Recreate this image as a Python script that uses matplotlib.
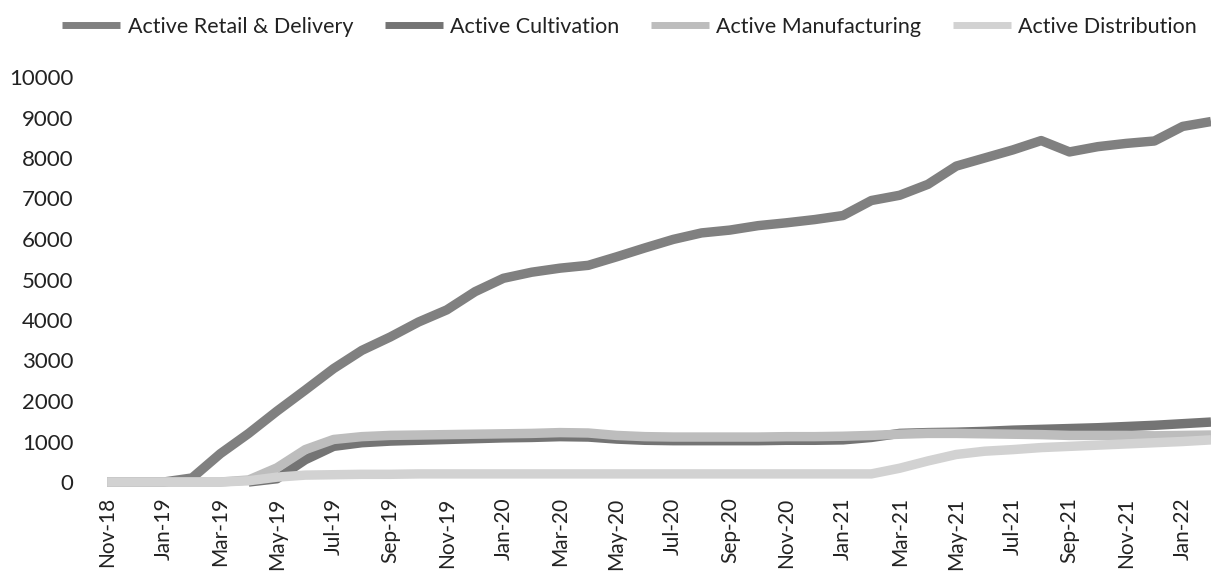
import matplotlib.pyplot as plt
import numpy as np

plt.rcParams['font.family'] = ['Lato', 'DejaVu Sans']

months = ["Nov-18", "Dec-18", "Jan-19", "Feb-19", "Mar-19", "Apr-19", "May-19", "Jun-19",
          "Jul-19", "Aug-19", "Sep-19", "Oct-19", "Nov-19", "Dec-19", "Jan-20", "Feb-20",
          "Mar-20", "Apr-20", "May-20", "Jun-20", "Jul-20", "Aug-20", "Sep-20", "Oct-20",
          "Nov-20", "Dec-20", "Jan-21", "Feb-21", "Mar-21", "Apr-21", "May-21", "Jun-21",
          "Jul-21", "Aug-21", "Sep-21", "Oct-21", "Nov-21", "Dec-21", "Jan-22", "Feb-22"]

retail = [0, 0, 0, 100, 700, 1200, 1750, 2270, 2800, 3250, 3580, 3950, 4250, 4700,
          5030, 5180, 5280, 5350, 5560, 5780, 5990, 6150, 6220, 6330, 6400, 6480,
          6580, 6950, 7080, 7350, 7800, 8000, 8200, 8430, 8150, 8280, 8360, 8420,
          8780, 8900]

cultivation = [np.nan, np.nan, np.nan, np.nan, np.nan, 0, 80, 550, 880, 970, 1010, 1030,
               1050, 1070, 1090, 1100, 1120, 1110, 1060, 1030, 1020, 1020, 1020, 1020,
               1030, 1030, 1040, 1100, 1200, 1220, 1230, 1250, 1280, 1300, 1320, 1340,
               1370, 1400, 1440, 1480]

manufacturing = [0, 0, 0, 0, 0, 50, 350, 800, 1050, 1120, 1150, 1160, 1170, 1180, 1190,
                 1200, 1220, 1210, 1150, 1120, 1110, 1110, 1110, 1110, 1120, 1120, 1130,
                 1150, 1180, 1200, 1200, 1190, 1180, 1170, 1150, 1150, 1150, 1140, 1150,
                 1160]

distribution = [0, 0, 0, 0, 0, 30, 120, 170, 180, 190, 190, 200, 200, 200, 200, 200, 200,
                200, 200, 200, 200, 200, 200, 200, 200, 200, 200, 200, 340, 520, 680, 760,
                800, 850, 880, 910, 940, 970, 1000, 1040]

series = [
    ("Active Retail & Delivery", retail, "#808080"),
    ("Active Cultivation", cultivation, "#747474"),
    ("Active Manufacturing", manufacturing, "#bdbdbd"),
    ("Active Distribution", distribution, "#d2d2d2"),
]

fig = plt.figure(figsize=(12.11, 5.71), dpi=100)
ax = fig.add_axes([93 / 1211, 89 / 571, 1 - 93 / 1211, 405 / 571])

x = np.arange(len(months))
for name, vals, col in series:
    ax.plot(x, vals, color=col, lw=6.8, label=name, clip_on=False, solid_capstyle='butt')

ax.set_xlim(-0.5, len(months) - 1)
ax.set_ylim(0, 10000)
ax.set_yticks(np.arange(0, 10001, 1000))
ax.set_xticks(x[::2])
ax.set_xticklabels(months[::2], rotation=90)
ax.tick_params(axis='both', length=0, colors='#222222')
ax.tick_params(axis='y', pad=14, labelsize=16)
ax.tick_params(axis='x', pad=11, labelsize=15)
for s in ax.spines.values():
    s.set_visible(False)

leg = fig.legend(loc='upper center', bbox_to_anchor=(0.52, 1.005), ncol=4, frameon=False,
                 fontsize=15.5, handlelength=2.7, handletextpad=0.35, columnspacing=1.45,
                 labelcolor='#222222')
for h in leg.get_lines():
    h.set_linewidth(5)

fig.savefig("out.png", dpi=100)
